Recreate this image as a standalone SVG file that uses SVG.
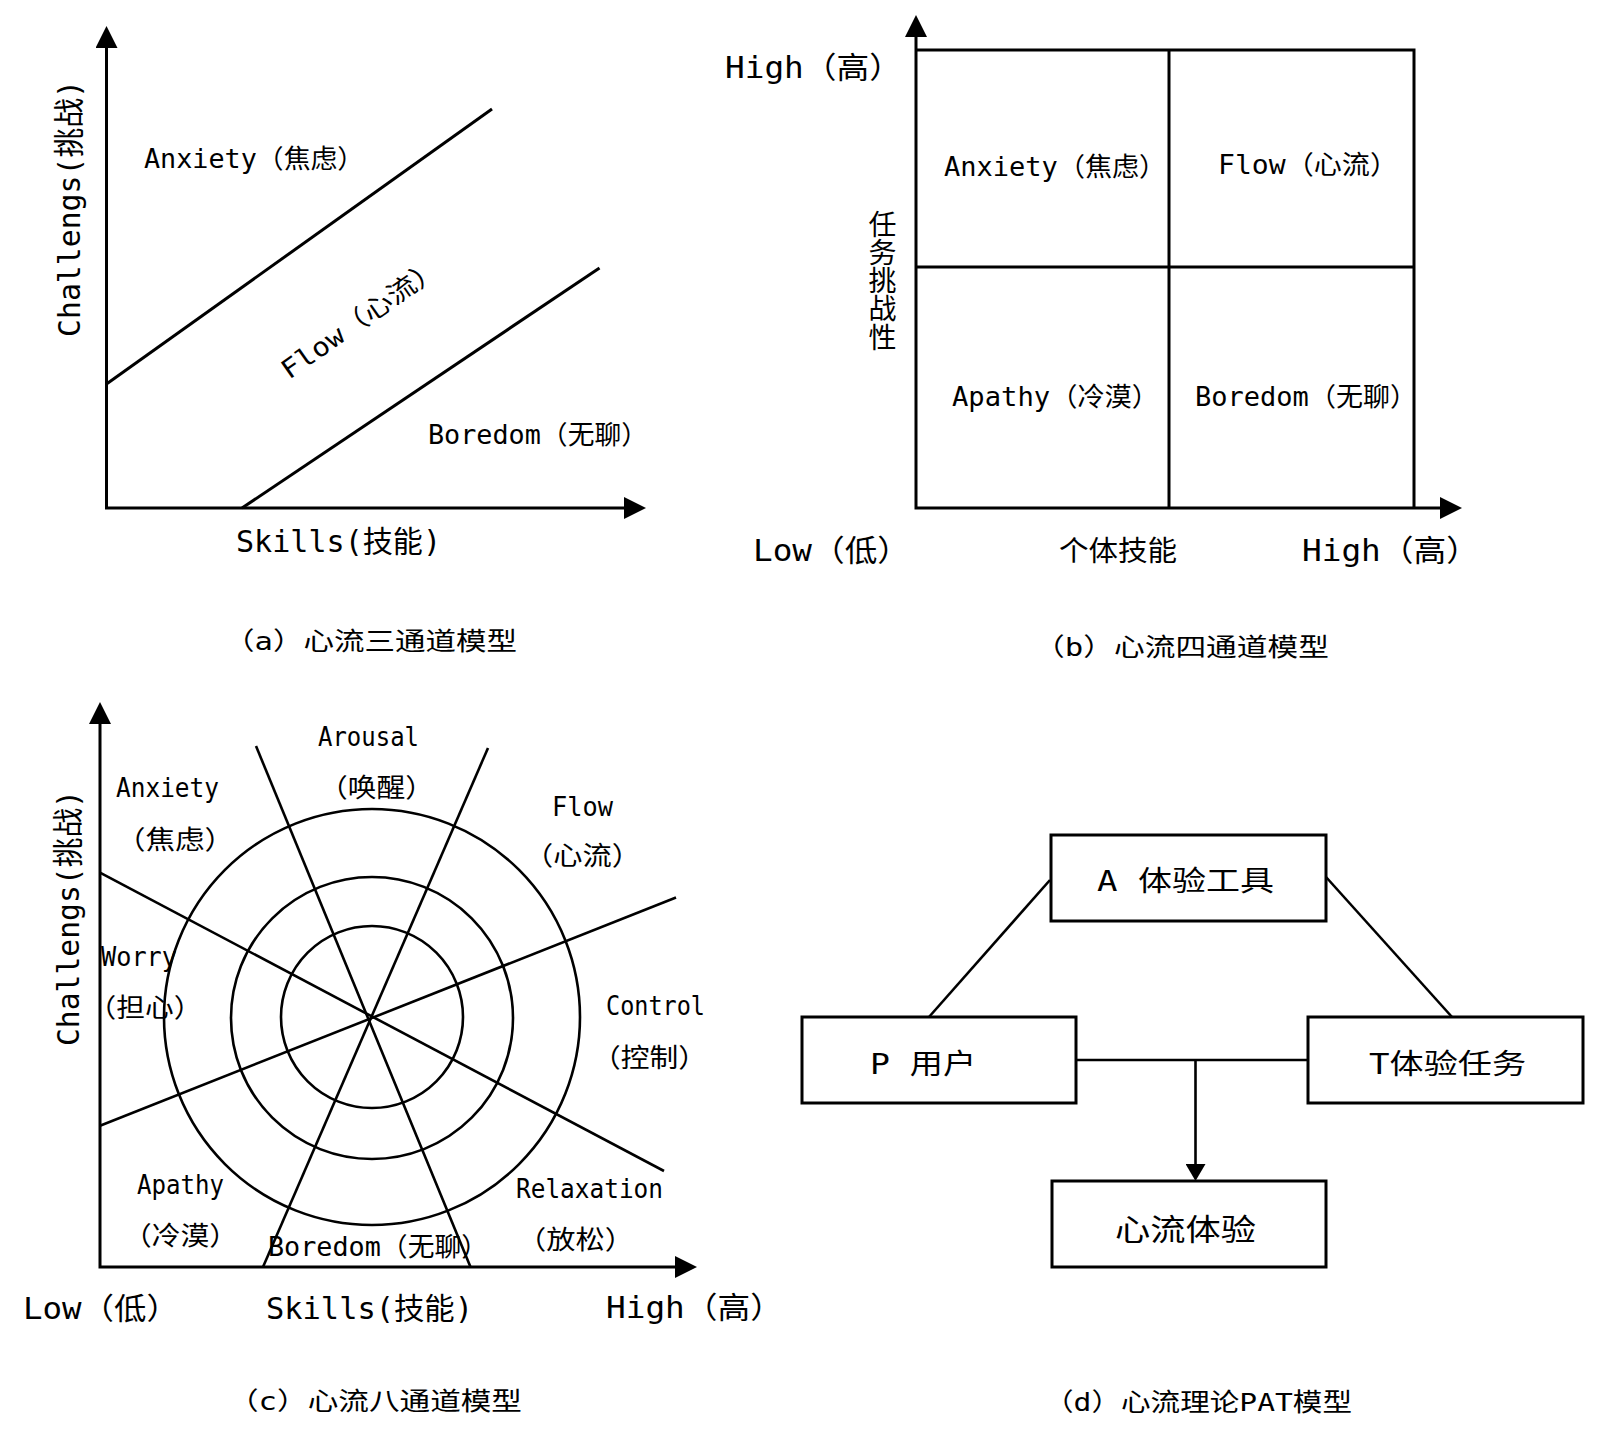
<svg xmlns="http://www.w3.org/2000/svg" width="1600" height="1430" viewBox="0 0 1600 1430">
<style>
.t{font-family:"DejaVu Sans Mono","Noto Sans CJK SC",monospace;fill:#000}
.ln{stroke:#000;stroke-width:3;fill:none}
.th{stroke:#000;stroke-width:2.6;fill:none}
.box{fill:#fff;stroke:#000;stroke-width:3}
</style>
<defs>
<marker id="ah" markerWidth="22" markerHeight="22" refX="0" refY="11" orient="auto-start-reverse" markerUnits="userSpaceOnUse" viewBox="0 0 22 22"><path d="M0,0 L22,11 L0,22 z" fill="#000"/></marker>
<marker id="ahs" markerWidth="17" markerHeight="20" refX="0" refY="10" orient="auto" markerUnits="userSpaceOnUse" viewBox="0 0 17 20"><path d="M0,0 L17,10 L0,20 z" fill="#000"/></marker>
</defs>
<rect width="1600" height="1430" fill="#fff"/>

<g id="panel-a">
<path class="ln" d="M106.5,48 L106.5,508 L624,508" marker-start="url(#ah)" marker-end="url(#ah)"/>
<line class="ln" x1="106.5" y1="384" x2="492" y2="109"/>
<line class="ln" x1="242" y1="508" x2="599.5" y2="268"/>
<text class="t" x="144" y="168" font-size="26" textLength="220" lengthAdjust="spacingAndGlyphs">Anxiety（焦虑）</text>
<text class="t" font-size="26" textLength="188" lengthAdjust="spacingAndGlyphs" transform="translate(289,380) rotate(-35)">Flow（心流）</text>
<text class="t" x="428" y="444" font-size="26" textLength="220" lengthAdjust="spacingAndGlyphs">Boredom（无聊）</text>
<text class="t" font-size="31" textLength="257" lengthAdjust="spacingAndGlyphs" transform="translate(80,337) rotate(-90)">Challengs(挑战)</text>
<text class="t" x="236" y="552" font-size="30" textLength="205" lengthAdjust="spacingAndGlyphs">Skills(技能)</text>
<text class="t" x="224" y="650" font-size="25" textLength="293" lengthAdjust="spacingAndGlyphs">（a）心流三通道模型</text>
</g>

<g id="panel-b">
<path class="ln" d="M916,37 L916,508 L1440,508" marker-start="url(#ah)" marker-end="url(#ah)"/>
<path class="ln" d="M916,50 H1414 V508"/>
<line class="ln" x1="1169" y1="50" x2="1169" y2="508"/>
<line class="ln" x1="916" y1="267" x2="1414" y2="267"/>
<text class="t" x="725" y="78" font-size="30" textLength="177" lengthAdjust="spacingAndGlyphs">High（高）</text>
<text class="t" x="944" y="176" font-size="26" textLength="222" lengthAdjust="spacingAndGlyphs">Anxiety（焦虑）</text>
<text class="t" x="1218" y="174" font-size="26" textLength="180" lengthAdjust="spacingAndGlyphs">Flow（心流）</text>
<text class="t" x="952" y="406" font-size="26" textLength="207" lengthAdjust="spacingAndGlyphs">Apathy（冷漠）</text>
<text class="t" x="1195" y="406" font-size="26" textLength="222" lengthAdjust="spacingAndGlyphs">Boredom（无聊）</text>
<text class="t" x="880" y="210" font-size="28" writing-mode="tb" textLength="141" lengthAdjust="spacing">任务挑战性</text>
<text class="t" x="753" y="561" font-size="30" textLength="157" lengthAdjust="spacingAndGlyphs">Low（低）</text>
<text class="t" x="1059" y="561" font-size="28" textLength="118" lengthAdjust="spacingAndGlyphs">个体技能</text>
<text class="t" x="1302" y="561" font-size="30" textLength="177" lengthAdjust="spacingAndGlyphs">High（高）</text>
<text class="t" x="1034" y="656" font-size="25" textLength="295" lengthAdjust="spacingAndGlyphs">（b）心流四通道模型</text>
</g>

<g id="panel-c">
<path class="ln" d="M100,724 L100,1267 L675,1267" marker-start="url(#ah)" marker-end="url(#ah)"/>
<circle class="th" cx="372" cy="1017" r="208"/>
<circle class="th" cx="372" cy="1018" r="141"/>
<circle class="th" cx="372" cy="1017" r="91"/>
<line class="th" x1="256" y1="746" x2="470.5" y2="1267"/>
<line class="th" x1="488" y1="748" x2="263" y2="1267"/>
<line class="th" x1="100" y1="872.6" x2="664" y2="1171"/>
<line class="th" x1="100" y1="1125.7" x2="676" y2="897.5"/>
<text class="t" x="318" y="746" font-size="26" textLength="101" lengthAdjust="spacingAndGlyphs">Arousal</text>
<text class="t" x="319" y="797" font-size="26" textLength="115" lengthAdjust="spacingAndGlyphs">（唤醒）</text>
<text class="t" x="116" y="797" font-size="26" textLength="103" lengthAdjust="spacingAndGlyphs">Anxiety</text>
<text class="t" x="116" y="849" font-size="26" textLength="118" lengthAdjust="spacingAndGlyphs">（焦虑）</text>
<text class="t" x="552" y="816" font-size="26" textLength="61" lengthAdjust="spacingAndGlyphs">Flow</text>
<text class="t" x="524" y="865" font-size="26" textLength="117" lengthAdjust="spacingAndGlyphs">（心流）</text>
<text class="t" x="101" y="966" font-size="26" textLength="76" lengthAdjust="spacingAndGlyphs">Worry</text>
<text class="t" x="87.5" y="1017" font-size="26" textLength="115" lengthAdjust="spacingAndGlyphs">（担心）</text>
<text class="t" x="606" y="1015" font-size="26" textLength="99" lengthAdjust="spacingAndGlyphs">Control</text>
<text class="t" x="592" y="1067" font-size="26" textLength="115" lengthAdjust="spacingAndGlyphs">（控制）</text>
<text class="t" x="137" y="1194" font-size="26" textLength="87" lengthAdjust="spacingAndGlyphs">Apathy</text>
<text class="t" x="123" y="1245" font-size="26" textLength="115" lengthAdjust="spacingAndGlyphs">（冷漠）</text>
<text class="t" x="516" y="1198" font-size="26" textLength="147" lengthAdjust="spacingAndGlyphs">Relaxation</text>
<text class="t" x="517" y="1249" font-size="26" textLength="117" lengthAdjust="spacingAndGlyphs">（放松）</text>
<text class="t" x="268" y="1256" font-size="26" textLength="220" lengthAdjust="spacingAndGlyphs">Boredom（无聊）</text>
<text class="t" x="23" y="1319" font-size="30" textLength="156" lengthAdjust="spacingAndGlyphs">Low（低）</text>
<text class="t" x="266" y="1319" font-size="30" textLength="207" lengthAdjust="spacingAndGlyphs">Skills(技能)</text>
<text class="t" x="606" y="1318" font-size="30" textLength="177" lengthAdjust="spacingAndGlyphs">High（高）</text>
<text class="t" font-size="31" textLength="256" lengthAdjust="spacingAndGlyphs" transform="translate(79,1046) rotate(-90)">Challengs(挑战)</text>
<text class="t" x="228" y="1410" font-size="25" textLength="294" lengthAdjust="spacingAndGlyphs">（c）心流八通道模型</text>
</g>

<g id="connectors">
<line class="th" x1="1050" y1="880" x2="929" y2="1017"/>
<line class="th" x1="1326" y1="877" x2="1452" y2="1017"/>
<line class="th" x1="1076" y1="1060" x2="1308" y2="1060"/>
<line class="th" x1="1195.5" y1="1060" x2="1195.5" y2="1164" marker-end="url(#ahs)"/>
</g>

<g id="node-a">
<rect class="box" x="1051" y="835" width="275" height="86"/>
<text class="t" x="1097" y="891" font-size="28" textLength="177" lengthAdjust="spacingAndGlyphs">A 体验工具</text>
</g>
<g id="node-p">
<rect class="box" x="802" y="1017" width="274" height="86"/>
<text class="t" x="870" y="1074" font-size="28" textLength="106" lengthAdjust="spacingAndGlyphs">P 用户</text>
</g>
<g id="node-t">
<rect class="box" x="1308" y="1017" width="275" height="86"/>
<text class="t" x="1369" y="1074" font-size="28" textLength="157" lengthAdjust="spacingAndGlyphs">T体验任务</text>
</g>
<g id="node-flow">
<rect class="box" x="1052" y="1181" width="274" height="86"/>
<text class="t" x="1115" y="1240" font-size="30" textLength="141" lengthAdjust="spacingAndGlyphs">心流体验</text>
</g>
<g id="caption-d">
<text class="t" x="1044" y="1411" font-size="25" textLength="308" lengthAdjust="spacingAndGlyphs">（d）心流理论PAT模型</text>
</g>
</svg>
